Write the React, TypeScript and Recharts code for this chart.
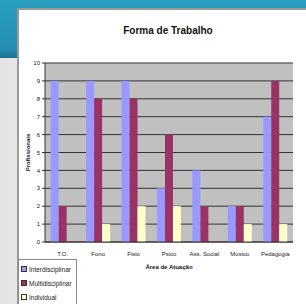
import { BarChart, Bar, XAxis, YAxis, CartesianGrid } from "recharts";

const areas = ["T.O.", "Fono", "Fisio", "Psico", "Ass. Social", "Musico", "Pedagogia"];
const interdisciplinar = [9, 9, 9, 3, 4, 2, 7];
const multidisciplinar = [2, 8, 8, 6, 2, 2, 9];
const individual = [0, 1, 2, 2, 0, 1, 1];
const yTicks = [0, 1, 2, 3, 4, 5, 6, 7, 8, 9, 10];

const series = [
    { key: "interdisciplinar", name: "Interdisciplinar", color: "#9999FF" },
    { key: "multidisciplinar", name: "Multidisciplinar", color: "#993366" },
    { key: "individual", name: "Individual", color: "#FFFFCC" },
];

const data = areas.map((area, i) => ({
    area,
    interdisciplinar: interdisciplinar[i],
    multidisciplinar: multidisciplinar[i],
    individual: individual[i],
}));

const font = "'Liberation Sans', Arial, sans-serif";

export default function App() {
    return (
        <div
            style={{
                position: "fixed",
                left: 0,
                top: 0,
                width: 306,
                height: 304,
                overflow: "hidden",
                background: "linear-gradient(90deg, #e4e4e4 0%, #f6f6f6 100%)",
                fontFamily: font,
            }}
        >
            {/* slide header */}
            <div
                style={{
                    position: "absolute",
                    left: 0,
                    top: 0,
                    width: 306,
                    height: 58,
                    background: "linear-gradient(180deg, #2aa0c0 0%, #238fb2 85%, #1b6f8c 100%)",
                }}
            />
            {/* chart frame */}
            <div
                style={{
                    position: "absolute",
                    left: 17,
                    top: 8,
                    width: 300,
                    height: 310,
                    background: "#ffffff",
                    borderLeft: "2px solid #9a9a9a",
                    borderTop: "2px solid #9a9a9a",
                    boxSizing: "border-box",
                }}
            />
            <div
                style={{
                    position: "absolute",
                    left: 0,
                    top: 25,
                    width: 336,
                    textAlign: "center",
                    fontSize: 10,
                    fontWeight: "bold",
                    color: "#111",
                }}
            >
                Forma de Trabalho
            </div>
            <div style={{ position: "absolute", left: 0, top: 0 }}>
                <BarChart
                    width={306}
                    height={304}
                    data={data}
                    margin={{ top: 63, right: 13, bottom: 42, left: 25 }}
                    barCategoryGap="16%"
                    barGap={0}
                >
                    <CartesianGrid
                        vertical={false}
                        fill="#c0c0c0"
                        stroke="#333"
                        strokeWidth={1}
                    />
                    <XAxis
                        dataKey="area"
                        height={20}
                        interval={0}
                        tick={{ fontSize: 6, fill: "#222", fontFamily: font, dy: 2 }}
                        tickLine={false}
                        axisLine={{ stroke: "#333" }}
                        label={{
                            value: "Área de Atuação",
                            position: "insideBottom",
                            offset: -7,
                            fontSize: 6,
                            fontWeight: "bold",
                            fill: "#111",
                        }}
                    />
                    <YAxis
                        width={20}
                        domain={[0, 10]}
                        ticks={yTicks}
                        interval={0}
                        tick={{ fontSize: 6, fill: "#222", fontFamily: font }}
                        tickSize={3}
                        tickLine={{ stroke: "#333" }}
                        axisLine={{ stroke: "#333" }}
                        label={{
                            value: "Profissionais",
                            angle: -90,
                            position: "insideLeft",
                            offset: 3,
                            fontSize: 6,
                            fontWeight: "bold",
                            fill: "#111",
                            style: { textAnchor: "middle" },
                        }}
                    />
                    {series.map((s) => (
                        <Bar
                            key={s.key}
                            dataKey={s.key}
                            name={s.name}
                            fill={s.color}
                            isAnimationActive={false}
                        />
                    ))}
                </BarChart>
            </div>
            {/* legend */}
            <div
                style={{
                    position: "absolute",
                    left: 18,
                    top: 259,
                    width: 55,
                    padding: "2px 0 2px 2px",
                    border: "1px solid #8a8a8a",
                    background: "#fff",
                    fontSize: 6.5,
                    color: "#222",
                }}
            >
                {series.map((s) => (
                    <div
                        key={s.key}
                        style={{ display: "flex", alignItems: "center", height: 14 }}
                    >
                        <span
                            style={{
                                display: "inline-block",
                                width: 4,
                                height: 4,
                                background: s.color,
                                border: "1px solid #333",
                                marginRight: 2,
                            }}
                        />
                        {s.name}
                    </div>
                ))}
            </div>
        </div>
    );
}
